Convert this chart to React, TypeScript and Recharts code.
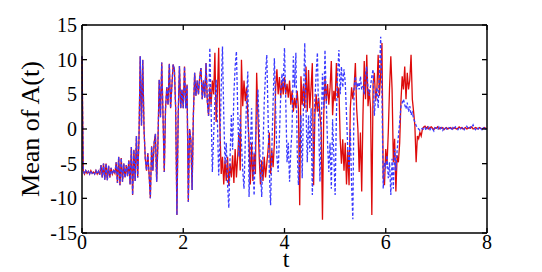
import React from 'react';
import { LineChart, Line, XAxis, YAxis } from 'recharts';

// time grid step (t axis)
const T_STEP = 0.025;

// x / y tick labels
const X_TICKS = [0, 2, 4, 6, 8];
const Y_TICKS = [-15, -10, -5, 0, 5, 10, 15];

// shared early segment (t = 0 .. 2.475), both series nearly coincide
const EARLY = [
  10.5, -6.0, -6.5, -6.0, -6.4, -6.1, -6.5, -6.0, -6.4, -6.2,
  -6.5, -6.0, -6.5, -6.1, -6.6, -5.2, -7.0, -5.0, -7.3, -5.0,
  -7.4, -5.3, -7.0, -5.6, -6.5, -6.0, -6.4, -4.8, -7.8, -4.0,
  -8.1, -4.2, -7.6, -5.0, -7.0, -5.2, -6.8, -4.5, -8.0, -2.6,
  -9.5, -3.0, -7.5, -1.0, -7.0, -1.5, 10.5, 0.5, 10.0, 0.0,
  -4.3, -6.0, -3.5, -6.5, -10.0, -2.5, -6.0, -2.0, -0.7, -7.6,
  -2.0, 7.1, 1.7, 9.6, 2.0, -6.2, 3.0, 6.0, 3.5, 9.4,
  3.0, 6.2, 9.3, 8.6, 3.0, -12.4, 2.0, 9.1, 3.0, 5.7,
  3.0, 9.0, 3.0, 6.4, -10.5, 0.0, -1.5, -8.8, 2.0, 8.1,
  4.8, 7.0, 5.0, 7.5, 8.8, 4.3, 7.0, 4.5, 9.5, 4.0,
];

// red (solid) series, t = 2.5 .. 8.0
const RED_A = [
  1.9, 6.0, 3.5, 7.0, 5.0, 11.0, 1.0, 5.0, 11.7, 0.0,
  -6.5, -4.0, -8.0, -4.5, -7.5, -4.0, -8.2, -5.0, -7.0, -3.8,
  -7.8, -2.9, -7.0, -4.0, -0.5, -6.0, 10.0, 3.3, 7.0, 4.0,
  6.0, 2.0, -2.0, -8.0, -2.0, -7.5, -3.5, -6.5, 8.1, 2.0,
  -4.0, -8.0, -4.5, -7.5, -4.0, -7.0, -5.0, -3.0, -0.5, -6.5,
  -3.0, -5.5, -2.0, 6.0, 8.6, 5.0, 7.5, 4.5, 7.0, 5.0,
];
const RED_B = [
  7.5, 5.0, 6.5, 4.5, 7.0, 3.5, 5.5, 2.5, 4.5, 3.0,
  5.5, 3.0, -11.0, 7.6, 3.5, 6.5, 3.0, 9.0, 2.5, 8.5,
  3.0, 6.0, 9.5, -8.1, 2.0, 5.0, 2.5, 4.5, 2.0, 0.0,
  -13.1, 2.0, 7.6, 4.0, 6.5, 3.5, 6.0, 9.8, 2.0, 5.5,
  4.0, 9.5, 4.5, 6.0, -1.5, -5.0, -1.5, -6.0, -2.0, -8.0,
  -3.0, -8.1, 3.0, 6.0, 4.3, 6.0,
];
const RED_C = [
  9.5, 3.0, 0.0, -6.2, -0.5, -9.0, 2.0, 9.8, 4.3, 10.7,
  3.3, 5.7, 3.0, -12.4, 6.5, 8.1, 4.0, 5.7, 10.7, 4.8,
  8.0, 12.4, -7.1, -8.1, -2.9, -5.2, -0.5, 6.0, 10.5, 5.7,
  -4.8, -1.4, -9.0, -3.8, -4.8, -2.0, 4.0, 7.6, 5.7, 9.0,
  4.3, 8.1, 5.7, 7.1, 10.7, 4.3, 2.5, 0.5, -4.8, -1.0,
  -1.4, -0.5, -1.0, 0.0, 0.3,
];
const RED_TAIL = [
  0.4, 0.1, 0.3, 0.0, 0.2, 0.3, 0.1, -0.1, 0.2, 0.1,
  0.3, 0.0, 0.2, 0.1, 0.2, -0.1, 0.1, 0.2, 0.0, 0.1,
  0.2, 0.1, 0.0, 0.2, 0.1, 0.0, 0.1, 0.3, 0.1, 0.2,
  0.0, 0.1, 0.2, 0.0, 0.1, 0.2, 0.1, 0.3, 0.0, 0.1,
  0.2, 0.1, 0.0, 0.2, 0.1, 0.0, 0.1, 0.2, 0.1, 0.0,
];

// blue (dashed) series, t = 2.5 .. 8.0
const BLUE_A = [
  1.9, 11.7, 3.0, -6.2, -1.0, 4.0, 7.1, 1.0, -6.7, -2.0,
  6.0, 11.9, 2.0, -5.0, -2.0, -8.0, -11.4, -4.0, 2.0, -3.0,
  5.0, 9.0, 11.2, 3.0, -4.0, 2.0, -2.0, -6.0, -8.6, -2.0,
  4.0, 8.3, -9.8, -3.0, 3.0, -5.0, -9.6, -2.0, 2.0, 5.7,
  0.0, -6.0, -9.8, -3.0, 4.0, 8.0, 10.7, 2.0, -6.0, -11.0,
  -3.0, 4.0, 10.2, 3.0, -4.0, -6.2, -1.0, 5.0, 8.0, 6.0,
];
const BLUE_B = [
  11.7, 4.0, -4.8, -2.0, -7.6, -3.0, 0.0, 10.5, 6.0, 11.0,
  -2.9, -8.1, -3.0, 2.0, -7.1, 4.0, 12.4, 3.0, -4.8, 2.0,
  -3.3, 3.0, -9.5, -2.0, 4.0, 8.0, 11.0, 1.0, -7.6, 0.0,
  8.0, 3.0, 11.4, 4.0, -2.0, -6.2, -2.0, -8.6, 1.4, -4.0,
  -9.5, 2.0, 8.0, 11.4, 5.0, 9.0, 6.0, 8.6, 6.7, 2.0,
  -3.0, -5.7, 0.0, -8.0, -13.0, 6.0,
];
const BLUE_C = [
  7.6, 5.7, 6.7, 5.7, 7.6, 5.7, 6.2, 5.0, 8.0, 9.0,
  5.7, 4.8, 6.2, 7.6, 8.6, 1.9, 4.8, 6.0, 3.0, 8.0,
  13.3, 5.0, -8.6, -4.8, -5.7, -3.8, -7.1, -4.8, -9.5, -4.3,
  -8.6, -2.9, -6.0, -3.0, -1.0, 1.0, 3.3, 3.8, 4.3, 3.5,
  2.9, 3.8, 2.5, 3.3, 2.0, 2.4, 1.5, 1.0, 0.5, 0.2,
  0.0, -0.2, 0.0, 0.1, -0.1,
];
const BLUE_TAIL = [
  0.2, -0.2, 0.1, 0.3, -0.1, 0.2, 0.0, -0.3, 0.2, 0.1,
  -0.1, 0.3, 0.0, 0.2, -0.2, 0.1, 0.3, 0.0, -0.1, 0.2,
  0.1, -0.2, 0.2, 0.0, 0.3, 0.1, -0.1, 0.2, 0.0, 0.1,
  0.3, -0.1, 0.2, 0.4, 0.1, 0.0, 0.3, 0.2, 0.6, 0.1,
  -0.1, 0.2, 0.0, 0.3, 0.1, -0.1, 0.2, 0.1, 0.0, 0.1,
];

const RED = [...EARLY, ...RED_A, ...RED_B, ...RED_C, ...RED_TAIL];
const BLUE = [...EARLY, ...BLUE_A, ...BLUE_B, ...BLUE_C, ...BLUE_TAIL];

const data = RED.map((v, i) => ({
  t: +(i * T_STEP).toFixed(3),
  red: v,
  blue: BLUE[i],
}));

const FONT = '"Liberation Serif", "Times New Roman", Times, serif';
const TICK_LEN = 5;

const BottomTick = (props: any) => {
  const { x, y, payload } = props;
  return (
    <g>
      <line x1={x} x2={x} y1={y} y2={y - TICK_LEN} stroke="#000" strokeWidth={1.3} />
      <text x={x} y={y + 16} textAnchor="middle" fontFamily={FONT} fontSize={20} fill="#000">
        {payload.value}
      </text>
    </g>
  );
};
const TopTick = (props: any) => {
  const { x, y } = props;
  return <line x1={x} x2={x} y1={y} y2={y + TICK_LEN} stroke="#000" strokeWidth={1.3} />;
};
const LeftTick = (props: any) => {
  const { x, y, payload } = props;
  return (
    <g>
      <line x1={x} x2={x + TICK_LEN} y1={y} y2={y} stroke="#000" strokeWidth={1.3} />
      <text x={x - 5} y={y + 7} textAnchor="end" fontFamily={FONT} fontSize={20} fill="#000">
        {String(payload.value)}
      </text>
    </g>
  );
};
const RightTick = (props: any) => {
  const { x, y } = props;
  return <line x1={x} x2={x - TICK_LEN} y1={y} y2={y} stroke="#000" strokeWidth={1.3} />;
};

const YTitle = () => (
  <text
    x={30}
    y={129}
    transform="rotate(-90 30 129)"
    textAnchor="middle"
    dominantBaseline="central"
    fontFamily={FONT}
    fontSize={26}
    fill="#000"
  >
    Mean of A(t)
  </text>
);
const XTitle = () => (
  <text x={286} y={267} textAnchor="middle" fontFamily={FONT} fontSize={24} fill="#000">
    t
  </text>
);

export default function App() {
  return (
    <div style={{ position: 'absolute', left: 0, top: 0, width: 542, height: 272, background: '#fff' }}>
      <LineChart
        width={542}
        height={272}
        data={data}
        margin={{ top: 24, right: 54, bottom: 38, left: 81 }}
      >
        <XAxis
          xAxisId="b"
          dataKey="t"
          type="number"
          domain={[0, 8]}
          ticks={X_TICKS}
          interval={0}
          height={1}
          tickSize={0}
          tickMargin={0}
          tickLine={false}
          tick={<BottomTick />}
          axisLine={{ stroke: '#000', strokeWidth: 1.5 }}
          label={<XTitle />}
        />
        <XAxis
          xAxisId="top"
          orientation="top"
          dataKey="t"
          type="number"
          domain={[0, 8]}
          ticks={X_TICKS}
          interval={0}
          height={1}
          tickSize={0}
          tickMargin={0}
          tickLine={false}
          tick={<TopTick />}
          axisLine={{ stroke: '#000', strokeWidth: 1.5 }}
        />
        <YAxis
          yAxisId="l"
          type="number"
          domain={[-15, 15]}
          ticks={Y_TICKS}
          interval={0}
          width={1}
          tickSize={0}
          tickMargin={0}
          tickLine={false}
          tick={<LeftTick />}
          axisLine={{ stroke: '#000', strokeWidth: 1.5 }}
          allowDataOverflow
          label={<YTitle />}
        />
        <YAxis
          yAxisId="r"
          orientation="right"
          type="number"
          domain={[-15, 15]}
          ticks={Y_TICKS}
          interval={0}
          width={1}
          tickSize={0}
          tickMargin={0}
          tickLine={false}
          tick={<RightTick />}
          axisLine={{ stroke: '#000', strokeWidth: 1.5 }}
          allowDataOverflow
        />
        <Line
          xAxisId="b"
          yAxisId="l"
          type="linear"
          dataKey="red"
          stroke="#dd0a0a"
          strokeWidth={1.3}
          dot={false}
          isAnimationActive={false}
        />
        <Line
          xAxisId="top"
          yAxisId="r"
          type="linear"
          dataKey="blue"
          stroke="#3a3aff"
          strokeWidth={1.3}
          strokeDasharray="3 2"
          dot={false}
          isAnimationActive={false}
        />
      </LineChart>
    </div>
  );
}
